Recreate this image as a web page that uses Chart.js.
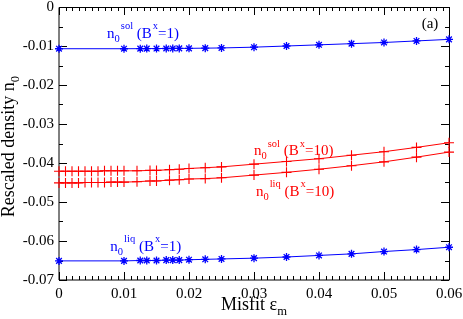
<!DOCTYPE html>
<html>
<head>
<meta charset="utf-8">
<script src="https://cdn.jsdelivr.net/npm/chart.js@4.4.0/dist/chart.umd.min.js"></script>
<style>
  html, body { margin: 0; padding: 0; background: #fff; }
</style>
</head>
<body>
<canvas id="misfitChart" width="463" height="319"></canvas>
<script>
// misfit values and rescaled densities
const misfitB1 = [0, 0.01, 0.0125, 0.0135, 0.015, 0.0165, 0.0175, 0.0185, 0.02, 0.0225, 0.025, 0.03, 0.035, 0.04, 0.045, 0.05, 0.055, 0.06];
const solB1 = [-0.0107, -0.0107, -0.01068, -0.01067, -0.01066, -0.01064, -0.01063, -0.01061, -0.0106, -0.01055, -0.0105, -0.0103, -0.0100, -0.0097, -0.0094, -0.0091, -0.0087, -0.0083];
const liqB1 = [-0.0651, -0.0651, -0.0650, -0.0650, -0.0650, -0.0649, -0.0649, -0.0649, -0.0648, -0.0647, -0.0646, -0.0644, -0.0641, -0.0637, -0.0633, -0.0627, -0.0622, -0.0616];

const misfitB10 = [0, 0.001, 0.002, 0.003, 0.004, 0.005, 0.006, 0.007, 0.008, 0.009, 0.01, 0.012, 0.014, 0.015, 0.017, 0.0185, 0.02, 0.0225, 0.025, 0.03, 0.035, 0.04, 0.045, 0.05, 0.055, 0.06];
const solB10 = [-0.0421, -0.0421, -0.0421, -0.0421, -0.0421, -0.0421, -0.0421, -0.0420, -0.0420, -0.0420, -0.0420, -0.0420, -0.0419, -0.0419, -0.0417, -0.0416, -0.0414, -0.0412, -0.0410, -0.0403, -0.0396, -0.0389, -0.0380, -0.0371, -0.0360, -0.0348];
const liqB10 = [-0.0451, -0.0451, -0.0451, -0.0451, -0.0450, -0.0450, -0.0450, -0.0450, -0.0449, -0.0449, -0.0449, -0.0448, -0.0446, -0.0446, -0.0444, -0.0443, -0.0441, -0.0440, -0.0438, -0.0431, -0.0424, -0.0416, -0.0407, -0.0397, -0.0385, -0.0372];

const xTicks = [0, 0.01, 0.02, 0.03, 0.04, 0.05, 0.06];
const yTicks = [0, -0.01, -0.02, -0.03, -0.04, -0.05, -0.06, -0.07];

const xTitle = [{t: 'Misfit \u03b5'}, {t: 'm', s: 'sub'}];
const yTitle = [{t: 'Rescaled density n'}, {t: '0', s: 'sub'}];

// curve labels: [x, y] anchor in data units, colour, text parts
const curveLabels = [
  {at: [0.0074, -0.0079], color: '#0000ff', parts: [{t: 'n'}, {t: '0', s: 'sub'}, {t: 'sol', s: 'sup'}, {t: ' (B'}, {t: 'x', s: 'sup'}, {t: '=1)'}]},
  {at: [0.0300, -0.0380], color: '#ff0000', parts: [{t: 'n'}, {t: '0', s: 'sub'}, {t: 'sol', s: 'sup'}, {t: ' (B'}, {t: 'x', s: 'sup'}, {t: '=10)'}]},
  {at: [0.0303, -0.0484], color: '#ff0000', parts: [{t: 'n'}, {t: '0', s: 'sub'}, {t: 'liq', s: 'sup'}, {t: ' (B'}, {t: 'x', s: 'sup'}, {t: '=10)'}]},
  {at: [0.0079, -0.0625], color: '#0000ff', parts: [{t: 'n'}, {t: '0', s: 'sub'}, {t: 'liq', s: 'sup'}, {t: ' (B'}, {t: 'x', s: 'sup'}, {t: '=1)'}]},
  {at: [0.0558, -0.0054], color: '#000000', parts: [{t: '(a)'}]}
];

const SERIF = '"Liberation Serif", "Times New Roman", serif';

function pts(xs, ys) {
  return xs.map((v, i) => ({x: v, y: ys[i]}));
}

// draws text with sub/superscripts, returns width
function richText(ctx, x, y, parts, size) {
  let cx = x;
  parts.forEach(p => {
    if (p.s === 'sub') {
      ctx.font = (size * 0.7) + 'px ' + SERIF;
      ctx.fillText(p.t, cx, y + size * 0.28);
      cx += ctx.measureText(p.t).width;
    } else if (p.s === 'sup') {
      ctx.font = (size * 0.7) + 'px ' + SERIF;
      const sx = cx + 1;
      ctx.fillText(p.t, sx, y - size * 0.58);
      cx = sx + ctx.measureText(p.t).width;
    } else {
      ctx.font = size + 'px ' + SERIF;
      ctx.fillText(p.t, cx, y);
      cx += ctx.measureText(p.t).width;
    }
  });
  return cx - x;
}

function measureRich(ctx, parts, size) {
  let w = 0;
  parts.forEach(p => {
    ctx.font = (p.s ? size * 0.7 : size) + 'px ' + SERIF;
    w += ctx.measureText(p.t).width + (p.s === 'sup' ? 1 : 0);
  });
  return w;
}

const framePlugin = {
  id: 'frame',
  beforeDatasetsDraw(chart) {
    const {ctx, chartArea: a, scales: {x, y}} = chart;
    ctx.save();
    ctx.strokeStyle = '#000';
    ctx.lineWidth = 1;
    ctx.beginPath();
    ctx.moveTo(a.left, a.top + 0.5); ctx.lineTo(a.right + 0.5, a.top + 0.5);
    ctx.lineTo(a.right + 0.5, a.bottom); ctx.lineTo(a.left, a.bottom);
    ctx.closePath();
    ctx.stroke();
    ctx.beginPath();
    for (let i = 0; i <= 60; i++) {
      const px = Math.round(x.getPixelForValue(i / 1000)) + 0.5;
      const len = i % 10 === 0 ? 8 : 4;
      ctx.moveTo(px, a.bottom); ctx.lineTo(px, a.bottom - len);
      ctx.moveTo(px, a.top); ctx.lineTo(px, a.top + len);
    }
    for (let i = 0; i <= 14; i++) {
      const py = Math.round(y.getPixelForValue(-i * 0.005)) + 0.5;
      const len = i % 2 === 0 ? 8 : 4;
      ctx.moveTo(a.left, py); ctx.lineTo(a.left + len, py);
      ctx.moveTo(a.right, py); ctx.lineTo(a.right - len, py);
    }
    ctx.stroke();
    ctx.restore();
  },
  afterDraw(chart) {
    const {ctx, chartArea: a, scales: {x, y}} = chart;
    ctx.save();
    ctx.textBaseline = 'alphabetic';
    ctx.textAlign = 'left';

    // axis titles
    ctx.fillStyle = '#000';
    const xw = measureRich(ctx, xTitle, 18);
    richText(ctx, (a.left + a.right) / 2 - xw / 2, 310, xTitle, 18);

    ctx.save();
    ctx.translate(14, (a.top + a.bottom) / 2 + 3);
    ctx.rotate(-Math.PI / 2);
    const yw = measureRich(ctx, yTitle, 18);
    richText(ctx, -yw / 2, 0, yTitle, 18);
    ctx.restore();

    // curve labels
    curveLabels.forEach(l => {
      ctx.fillStyle = l.color;
      richText(ctx, x.getPixelForValue(l.at[0]), y.getPixelForValue(l.at[1]), l.parts, 15);
    });
    ctx.restore();
  }
};

const ctx = document.getElementById('misfitChart');

const config = {
  type: 'line',
  data: {
    datasets: [
      {label: 'sol B=1', data: pts(misfitB1, solB1), borderColor: '#0000ff', pointStyle: 'star', pointRadius: 4, pointBorderWidth: 1.3},
      {label: 'liq B=1', data: pts(misfitB1, liqB1), borderColor: '#0000ff', pointStyle: 'star', pointRadius: 4, pointBorderWidth: 1.3},
      {label: 'sol B=10', data: pts(misfitB10, solB10), borderColor: '#ff0000', pointStyle: 'cross', pointRadius: 5, pointBorderWidth: 1.1},
      {label: 'liq B=10', data: pts(misfitB10, liqB10), borderColor: '#ff0000', pointStyle: 'cross', pointRadius: 5, pointBorderWidth: 1.1}
    ].map(d => Object.assign(d, {borderWidth: 1, fill: false, tension: 0, clip: false, pointBackgroundColor: d.borderColor}))
  },
  options: {
    responsive: false,
    animation: false,
    layout: {padding: {top: 7, right: 14, left: 0, bottom: 0}},
    plugins: {legend: {display: false}, tooltip: {enabled: false}},
    scales: {
      x: {
        type: 'linear',
        min: 0, max: 0.06,
        grid: {display: false, drawTicks: false},
        border: {display: false},
        afterBuildTicks: s => { s.ticks = xTicks.map(v => ({value: v})); },
        afterFit: s => { s.height = 39; s.paddingLeft = 0; s.paddingRight = 0; },
        ticks: {
          color: '#000', padding: 5, maxRotation: 0, autoSkip: false,
          font: {family: SERIF, size: 15},
          callback: v => v === 0 ? '0' : v.toFixed(2)
        }
      },
      y: {
        type: 'linear',
        min: -0.07, max: 0,
        grid: {display: false, drawTicks: false},
        border: {display: false},
        afterBuildTicks: s => { s.ticks = yTicks.map(v => ({value: v})); },
        afterFit: s => { s.width = 59; s.paddingTop = 0; s.paddingBottom = 0; },
        ticks: {
          color: '#000', padding: 5, autoSkip: false,
          font: {family: SERIF, size: 15},
          callback: v => v === 0 ? '0' : v.toFixed(2)
        }
      }
    }
  },
  plugins: [framePlugin]
};

const misfitChart = new Chart(ctx, config);
</script>
</body>
</html>
